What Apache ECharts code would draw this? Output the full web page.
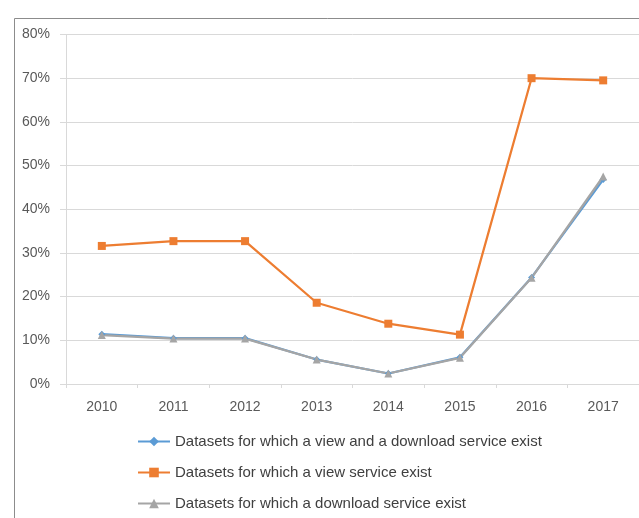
<!DOCTYPE html>
<html>
<head>
<meta charset="utf-8">
<script src="https://cdn.jsdelivr.net/npm/echarts@6/dist/echarts.min.js"></script>
<style>
html,body{margin:0;padding:0;background:#fff;}
#c{width:639px;height:518px;}
</style>
</head>
<body>
<div id="c"></div>
<script>
var years = ['2010','2011','2012','2013','2014','2015','2016','2017'];
var viewAndDownload = [0.114, 0.105, 0.105, 0.056, 0.024, 0.061, 0.244, 0.468];
var viewOnly = [0.316, 0.327, 0.327, 0.186, 0.138, 0.113, 0.700, 0.695];
var downloadOnly = [0.112, 0.104, 0.104, 0.056, 0.024, 0.060, 0.243, 0.475];
var seriesNames = [
  'Datasets for which a view and a download service exist',
  'Datasets for which a view service exist',
  'Datasets for which a download service exist'
];
var yTicks = {min: 0, max: 0.8, interval: 0.1};

var chart = echarts.init(document.getElementById('c'));
var font = 'Liberation Sans';
chart.setOption({
  animation: false,
  graphic: [{
    type: 'rect', left: 12, top: 16, silent: true,
    shape: {width: 700, height: 600},
    style: {fill: 'none', stroke: '#8c8c8c', lineWidth: 1}
  }],
  grid: {left: 66, top: 34.5, width: 576, height: 349.5},
  xAxis: {
    type: 'category', data: years, boundaryGap: true,
    axisLine: {lineStyle: {color: '#d9d9d9'}},
    axisTick: {show: true, length: 4, lineStyle: {color: '#d9d9d9'}},
    axisLabel: {color: '#595959', fontSize: 14, fontFamily: font, margin: 16}
  },
  yAxis: {
    type: 'value', min: yTicks.min, max: yTicks.max, interval: yTicks.interval,
    axisLine: {show: true, lineStyle: {color: '#d9d9d9'}},
    axisTick: {show: true, length: 6, lineStyle: {color: '#d9d9d9'}},
    splitLine: {lineStyle: {color: '#d9d9d9'}},
    axisLabel: {color: '#595959', fontSize: 14, fontFamily: font, margin: 16,
      formatter: function(v){ return Math.round(v*100) + '%'; }}
  },
  legend: {
    orient: 'vertical', left: 137, top: 434, itemGap: 16, padding: 0,
    itemWidth: 32, itemHeight: 12,
    textStyle: {color: '#404040', fontSize: 15, fontFamily: font},
    data: seriesNames
  },
  series: [
    {name: seriesNames[0], type: 'line', data: viewAndDownload,
     symbol: 'diamond', symbolSize: 7, color: '#5b9bd5',
     lineStyle: {width: 2.25, color: '#5b9bd5'}, itemStyle: {color: '#5b9bd5'}},
    {name: seriesNames[1], type: 'line', data: viewOnly,
     symbol: 'rect', symbolSize: 8, color: '#ed7d31',
     lineStyle: {width: 2.25, color: '#ed7d31'}, itemStyle: {color: '#ed7d31'}},
    {name: seriesNames[2], type: 'line', data: downloadOnly,
     symbol: 'triangle', symbolSize: 8, color: '#a5a5a5',
     lineStyle: {width: 2.25, color: '#a5a5a5'}, itemStyle: {color: '#a5a5a5'}}
  ]
});
</script>
</body>
</html>
